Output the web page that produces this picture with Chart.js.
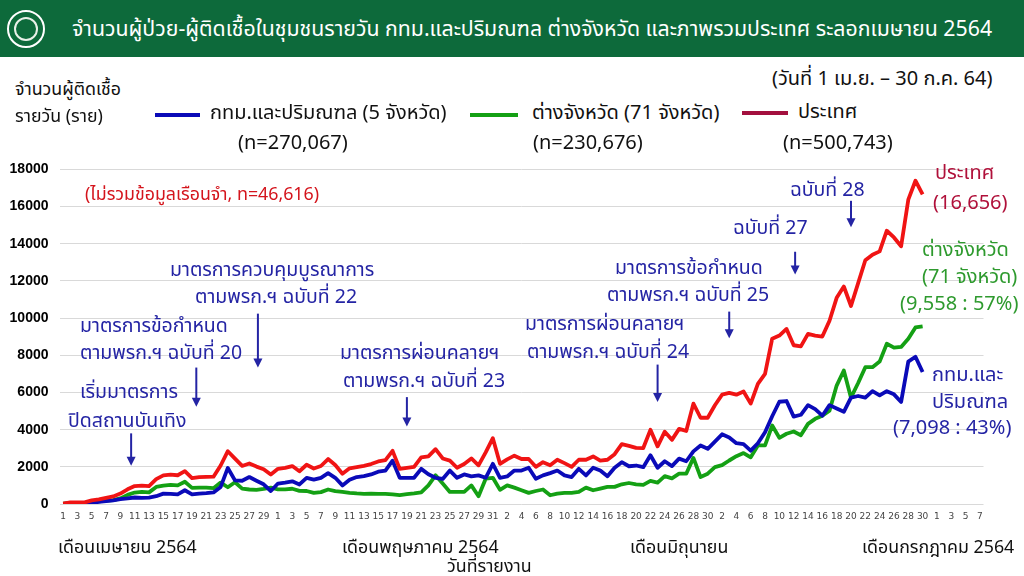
<!DOCTYPE html>
<html>
<head>
<meta charset="utf-8">
<script src="https://cdn.jsdelivr.net/npm/chart.js@4.4.1/dist/chart.umd.min.js"></script>
<style>
  body { margin: 0; width: 1024px; height: 576px; background: #fff; position: relative; overflow: hidden;
         font-family: Tahoma, "Noto Sans Thai", "Noto Sans", sans-serif; }
  .hdr { position: absolute; left: 0; top: 0; width: 1024px; height: 57px; background: #0d6a3b; }
  .hdr .t { position: absolute; left: 72px; top: 13px; color: #fff; font-size: 21.3px; white-space: nowrap; }
  .logo { position: absolute; left: 7px; top: 10px; width: 34px; height: 34px; border-radius: 50%;
          border: 2px solid #fff; background: #0d6a3b; }
  .logo:after { content: ""; position: absolute; left: 5px; top: 5px; width: 20px; height: 20px; border-radius: 50%;
          border: 2px solid #e8f0e8; }
  .tx { position: absolute; white-space: nowrap; line-height: 28px; }
  .ln { position: absolute; height: 4px; }
  #wrap { position: absolute; left: 0; top: 150px; width: 1024px; height: 400px; }
</style>
</head>
<body>
<div class="hdr"><div class="logo"></div>
  <div class="t">จำนวนผู้ป่วย-ผู้ติดเชื้อในชุมชนรายวัน กทม.และปริมณฑล ต่างจังหวัด และภาพรวมประเทศ ระลอกเมษายน 2564</div>
</div>
<div id="wrap"><canvas id="c"></canvas></div>
<div id="labels"></div>
<script>
// day of report, 1 Apr - 7 Aug 2564
var days = [
  1,2,3,4,5,6,7,8,9,10,11,12,13,14,15,16,17,18,19,20,21,22,23,24,25,26,27,28,29,30,
  1,2,3,4,5,6,7,8,9,10,11,12,13,14,15,16,17,18,19,20,21,22,23,24,25,26,27,28,29,30,31,
  1,2,3,4,5,6,7,8,9,10,11,12,13,14,15,16,17,18,19,20,21,22,23,24,25,26,27,28,29,30,
  1,2,3,4,5,6,7,8,9,10,11,12,13,14,15,16,17,18,19,20,21,22,23,24,25,26,27,28,29,30,31,
  1,2,3,4,5,6,7
];

// กทม.และปริมณฑล
var bkk = [
  5,30,40,35,70,110,150,200,260,300,350,330,340,420,560,550,520,740,520,560,580,620,920,1940,1270,1250,1450,1250,1060,700,
  1100,1150,1220,1050,1410,1310,1410,1660,1410,1000,1300,1450,1500,1590,1740,1800,2330,1410,1410,1410,1890,1600,1410,1350,1800,1410,1590,1490,1540,1410,2160,
  1410,1480,1800,1800,1950,1360,1540,1660,1800,1540,1450,1890,1540,1950,1800,1490,1950,2250,2030,2070,1980,2620,1950,2300,2040,2440,2300,2830,3150,2970,
  3360,3750,3580,3270,3220,2870,3270,3860,4720,5500,5540,4700,4800,5320,5100,4750,5320,5140,4960,5720,5810,5720,6070,5840,6070,5900,5490,7660,7920,7098
];

// ต่างจังหวัด
var prov = [
  21,54,49,49,124,140,184,205,299,489,617,655,625,915,983,1032,1000,1200,870,880,880,850,1150,900,1170,830,780,760,810,880,
  790,790,820,710,700,600,640,780,690,650,600,570,550,560,540,540,520,480,530,570,620,1000,1540,1100,650,650,650,1000,420,1360,1410,
  760,1000,880,740,600,700,780,470,560,600,600,650,880,740,830,920,920,1060,1130,1060,1030,1240,1150,1500,1380,1630,1630,2480,1450,1630,
  1980,2090,2340,2570,2740,2510,3150,3150,4220,3560,3780,3900,3700,4310,4580,4750,5020,6370,7180,5720,6510,7360,7360,7660,8620,8410,8450,8890,9500,9558
];

// ประเทศ
var thai = [
  26,84,89,84,194,250,334,405,559,789,967,985,965,1335,1543,1582,1547,1767,1390,1443,1458,1470,2070,2839,2438,2048,2179,2012,1871,1583,
  1891,1940,2041,1763,2112,1911,2044,2419,2101,1630,1919,1983,2052,2150,2290,2360,2860,1890,1945,2000,2510,2560,2950,2450,2330,1950,2150,2450,2080,2780,3540,
  2160,2400,2600,2420,2420,2000,2250,2080,2380,2200,2000,2380,2380,2560,2330,2380,2680,3220,3130,3020,3010,3990,3100,3890,3450,4040,3930,5400,4640,4640,
  5310,5880,5980,5880,6050,5400,6460,7000,8890,9060,9420,8540,8480,9150,9060,9010,9860,11090,11700,10650,11880,13110,13410,13590,14700,14340,13870,16370,17390,16656
];

var yTicks = [0,2000,4000,6000,8000,10000,12000,14000,16000,18000];

// arrows: [day index, from value, to value]
var arrows = [[9.5,3800,2060],[18.6,7340,5230],[27.2,10240,7340],[48,5750,4170],
              [83,7500,5490],[93,10350,8920],[102.2,13570,12350],[110,16310,14890]];

var C_BLUE = '#0a0ab8', C_GREEN = '#14a014', C_RED = '#f01414';
var NOTE = '#2424a4';

var texts = [
  ['จำนวนผู้ติดเชื้อ',15,90,'#111',17.8],['รายวัน (ราย)',15,117,'#111',17.8],
  ['กทม.และปริมณฑล (5 จังหวัด)',210,113,'#111',20],['(n=270,067)',238,143,'#111',20],
  ['ต่างจังหวัด (71 จังหวัด)',532,113,'#111',20],['(n=230,676)',533,143,'#111',20],
  ['ประเทศ',798,112,'#111',20],['(n=500,743)',783,143,'#111',20],
  ['(วันที่ 1 เม.ย. – 30 ก.ค. 64)',772,79,'#111',20],
  ['(ไม่รวมข้อมูลเรือนจำ, n=46,616)',85,195,'#d4141c',17.8],
  ['มาตรการควบคุมบูรณาการ',170,270,NOTE,19.5],['ตามพรก.ฯ ฉบับที่ 22',195,297,NOTE,19.5],
  ['มาตรการข้อกำหนด',80,326,NOTE,19.5],['ตามพรก.ฯ ฉบับที่ 20',80,353,NOTE,19.5],
  ['เริ่มมาตรการ',80,392,NOTE,19.5],['ปิดสถานบันเทิง',68,421,NOTE,19.5],
  ['มาตรการผ่อนคลายฯ',340,353,NOTE,19.5],['ตามพรก.ฯ ฉบับที่ 23',343,381,NOTE,19.5],
  ['มาตรการผ่อนคลายฯ',525,324,NOTE,19.5],['ตามพรก.ฯ ฉบับที่ 24',527,352,NOTE,19.5],
  ['มาตรการข้อกำหนด',615,268,NOTE,19.5],['ตามพรก.ฯ ฉบับที่ 25',607,295,NOTE,19.5],
  ['ฉบับที่ 27',733,228,NOTE,19.5],['ฉบับที่ 28',790,190,NOTE,19.5],
  ['ประเทศ',935,173,'#b0103a',20],['(16,656)',933,203,'#b0103a',20],
  ['ต่างจังหวัด',922,250,'#2e9a2e',20],['(71 จังหวัด)',922,277,'#2e9a2e',20],['(9,558 : 57%)',900,304,'#2e9a2e',20],
  ['กทม.และ',932,375,NOTE,20],['ปริมณฑล',932,402,NOTE,20],['(7,098 : 43%)',893,428,NOTE,20],
  ['เดือนเมษายน 2564',58,548,'#111',17.8],['เดือนพฤษภาคม 2564',342,548,'#111',17.8],
  ['วันที่รายงาน',447,567,'#111',17.8],['เดือนมิถุนายน',630,548,'#111',17.8],['เดือนกรกฎาคม 2564',862,548,'#111',17.8]
];

var box = document.getElementById('labels');
texts.forEach(function (t) {
  var d = document.createElement('div');
  d.className = 'tx';
  d.textContent = t[0];
  d.style.left = t[1] + 'px';
  d.style.top = (t[2] - 14) + 'px';
  d.style.color = t[3];
  d.style.fontSize = t[4] + 'px';
  box.appendChild(d);
});
// legend line samples
[[155,45,115,C_BLUE],[470,48,115,C_GREEN],[742,46,113,'#a3103e']].forEach(function (l) {
  var d = document.createElement('div');
  d.className = 'ln';
  d.style.left = l[0] + 'px'; d.style.width = l[1] + 'px';
  d.style.top = (l[2] - 2) + 'px'; d.style.background = l[3];
  box.appendChild(d);
});

var arrowPlugin = {
  id: 'arrows',
  afterDatasetsDraw: function (chart) {
    var ctx = chart.ctx, xs = chart.scales.x, ys = chart.scales.y;
    ctx.save();
    ctx.strokeStyle = NOTE; ctx.fillStyle = NOTE; ctx.lineWidth = 2;
    arrows.forEach(function (a) {
      var x = xs.getPixelForValue(a[0]);
      var y1 = ys.getPixelForValue(a[1]), y2 = ys.getPixelForValue(a[2]);
      ctx.beginPath(); ctx.moveTo(x, y1); ctx.lineTo(x, y2 - 8); ctx.stroke();
      ctx.beginPath(); ctx.moveTo(x - 4.5, y2 - 9); ctx.lineTo(x + 4.5, y2 - 9); ctx.lineTo(x, y2); ctx.closePath(); ctx.fill();
    });
    ctx.restore();
  }
};

var ctx = document.getElementById('c').getContext('2d');
var chart = new Chart(ctx, {
  type: 'line',
  data: {
    labels: days,
    datasets: [
      { label: 'ประเทศ', data: thai, borderColor: C_RED, borderWidth: 3.8 },
      { label: 'กทม.และปริมณฑล', data: bkk, borderColor: C_BLUE, borderWidth: 3.8 },
      { label: 'ต่างจังหวัด', data: prov, borderColor: C_GREEN, borderWidth: 3.8 }
    ]
  },
  options: {
    responsive: true,
    maintainAspectRatio: false,
    animation: false,
    elements: { point: { radius: 0 }, line: { tension: 0, borderJoinStyle: 'round' } },
    layout: { padding: { top: 13, right: 40.5, left: 0, bottom: 0 } },
    plugins: { legend: { display: false }, tooltip: { enabled: false } },
    scales: {
      x: {
        offset: true,
        grid: { display: false, drawTicks: false },
        border: { display: false },
        afterFit: function (s) { s.height = 46; },
        ticks: {
          autoSkip: false, maxRotation: 0, padding: 7, color: '#444',
          font: { size: 9, family: 'Tahoma, "DejaVu Sans", sans-serif' },
          callback: function (v, i) { return i % 2 === 0 ? days[i] : ''; }
        }
      },
      y: {
        min: 0, max: 18000,
        afterFit: function (s) { s.width = 59.5; },
        afterBuildTicks: function (s) { s.ticks = yTicks.map(function (v) { return { value: v }; }); },
        grid: { color: '#d9d9d9', lineWidth: 1, drawTicks: false },
        border: { display: false },
        ticks: {
          padding: 11, color: '#000',
          font: { size: 14, weight: 'bold', family: '"Liberation Sans", Arial, sans-serif' },
          callback: function (v) { return v; }
        }
      }
    }
  },
  plugins: [arrowPlugin]
});
</script>
</body>
</html>
